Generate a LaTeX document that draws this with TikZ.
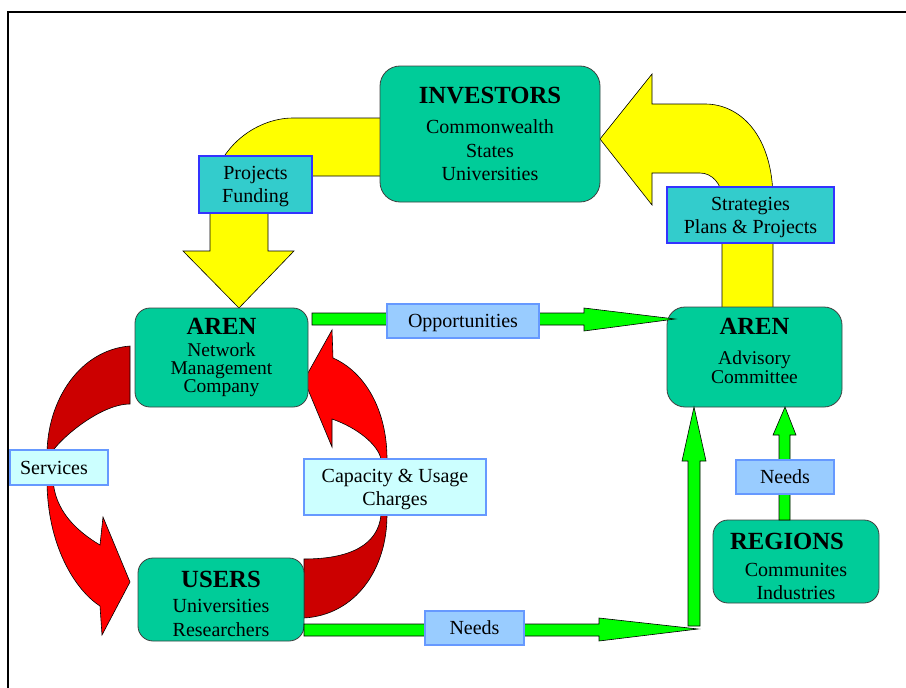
\documentclass[tikz,border=0pt]{standalone}
\usepackage{fontspec}
\setmainfont{Liberation Serif}
\definecolor{boxgreen}{RGB}{0,204,153}
\definecolor{tagcyan}{RGB}{51,204,204}
\definecolor{tagsky}{RGB}{153,204,255}
\definecolor{tagice}{RGB}{204,255,255}
\definecolor{edgeblue}{RGB}{51,51,255}
\definecolor{edgesky}{RGB}{102,153,255}
\definecolor{fatyellow}{RGB}{255,255,0}
\definecolor{fatgreen}{RGB}{0,255,0}
\definecolor{fatred}{RGB}{255,0,0}
\definecolor{backred}{RGB}{204,0,0}
\newcommand{\arentitle}{\bfseries\fontsize{24.7}{28}\selectfont}
\newcommand{\arenbody}{\fontsize{20}{23}\selectfont}

\begin{document}
\begin{tikzpicture}[
    x=1pt, y=-1pt,
    box/.style={draw=black!75, fill=boxgreen, rounded corners=15pt, align=center, inner sep=0pt, line width=0.8pt},
    boxtext/.style={align=center, inner sep=0pt},
    tagdark/.style={draw=edgeblue, fill=tagcyan, align=center, inner sep=0pt, text depth=0pt, line width=1.2pt, font=\arenbody},
    taglight/.style={draw=edgesky, fill=tagsky, align=center, inner sep=0pt, text depth=0pt, line width=1.2pt, font=\arenbody},
    fat/.style={draw=black, line width=0.6pt, line join=miter}
]
\useasboundingbox (0,0) rectangle (906,688);

% Frame
\draw[line width=2pt] (8,688) -- (8,12) -- (906,12);

% Yellow arrows
\draw[fat, fill=fatyellow] (385,118) -- (293,118) .. controls (255,118) and (210,150) .. (210,205)
    -- (210,251) -- (183,251) -- (239,308) -- (294,251) -- (268,251) -- (268,200)
    .. controls (268,186) and (279,176) .. (293,176) -- (385,176) -- cycle;
\draw[fat, fill=fatyellow] (722,312) -- (722,198) .. controls (722,184) and (712,173) .. (700,173)
    -- (652,173) -- (652,205) -- (600,139) -- (652,74) -- (652,104) -- (705,104)
    .. controls (740,104) and (773,135) .. (773,200) -- (773,312) -- cycle;

% Red arrows
\draw[fat, fill=backred] (130,346) .. controls (80,350) and (47,400) .. (47,455)
    -- (50,455) .. controls (58,440) and (100,404) .. (130,404) -- cycle;
\draw[fat, fill=fatred] (47,480) .. controls (47,545) and (75,590) .. (100,606)
    -- (102,635) -- (130,582) -- (103,517) -- (100,545)
    .. controls (75,530) and (55,510) .. (53,480) -- cycle;
\draw[fat, fill=backred] (304,618) .. controls (355,615) and (387,570) .. (387,515)
    -- (381,515) .. controls (378,545) and (350,559) .. (304,559) -- cycle;
\draw[fat, fill=fatred] (387,459) .. controls (387,410) and (365,372) .. (333,358)
    -- (332,330) -- (304,380) -- (332,447) -- (332,419)
    .. controls (358,428) and (378,445) .. (381,459) -- cycle;

% Main boxes
\node[box, rounded corners=20pt, minimum width=220pt, minimum height=136pt, font=\fontsize{20}{23.5}\selectfont] (inv) at (490,134)
    {{\arentitle INVESTORS}\\[6.5pt]Commonwealth\\States\\Universities};
\node[box, minimum width=173pt, minimum height=99pt, font=\fontsize{19.5}{18}\selectfont] (nmc) at (221.5,357.5)
    {{\arentitle AREN}\\[4pt]Network\\Management\\Company};
\node[box, minimum width=166pt, minimum height=83pt] (users) at (221,599.5) {};
\node[boxtext, font=\fontsize{20}{24}\selectfont] (userstext) at ([yshift=-4pt]users.center)
    {{\arentitle USERS}\\[1pt]Universities\\Researchers};
\node[box, rounded corners=18pt, minimum width=175pt, minimum height=100pt] (adv) at (754.5,357) {};
\node[boxtext, font=\fontsize{19.5}{18.5}\selectfont] (advtext) at ([yshift=6pt]adv.center)
    {{\arentitle AREN}\\[11.5pt]Advisory\\Committee};
\node[box, minimum width=166pt, minimum height=83pt] (reg) at (796,561.5) {};
\node[boxtext, font=\fontsize{20}{23}\selectfont] (regtext) at ([yshift=-5pt]reg.center)
    {{\arentitle REGIONS\hspace*{18pt}}\\[4pt]Communites\\Industries};

% Green arrows
\draw[fat, fill=fatgreen] (312,313) -- (584,313) -- (584,308) -- (675,319) -- (584,331) -- (584,325) -- (312,325) -- cycle;
\draw[fat, fill=fatgreen] (688,626) -- (688,461) -- (682,461) -- (694,407) -- (706,461) -- (700,461) -- (700,626) -- cycle;
\draw[fat, fill=fatgreen] (304,624) -- (599,624) -- (599,618) -- (698,629) -- (599,641) -- (599,636) -- (304,636) -- cycle;
\draw[fat, fill=fatgreen] (779,520) -- (779,435) -- (773,435) -- (785,407) -- (796,435) -- (790,435) -- (790,520) -- cycle;

% Labels
\node[tagdark, minimum width=113pt, minimum height=57pt] (fund) at (255.5,184.5) {Projects\\Funding};
\node[tagdark, minimum width=167pt, minimum height=56pt] (strat) at (750.5,215) {Strategies\\Plans \& Projects};
\node[taglight, minimum width=152pt, minimum height=34pt] (opp) at (463,321) {Opportunities};
\node[taglight, minimum width=99pt, minimum height=34pt] (needsu) at (474.5,628) {Needs};
\node[taglight, minimum width=98pt, minimum height=34pt] (needsr) at (785,477) {Needs};
\node[taglight, fill=tagice, minimum width=98pt, minimum height=35pt] (serv) at (59,467.5) {Services\hspace*{10pt}};
\node[taglight, fill=tagice, minimum width=182pt, minimum height=56pt] (cap) at (395,487) {Capacity \& Usage\\Charges};

\end{tikzpicture}
\end{document}
